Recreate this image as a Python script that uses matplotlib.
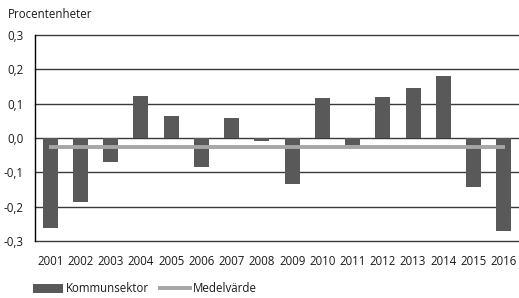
import matplotlib
matplotlib.use('Agg')
import matplotlib.pyplot as plt
from matplotlib.patches import Patch
from matplotlib.lines import Line2D

years = [str(y) for y in range(2001, 2017)]
kommunsektor = [-0.262, -0.187, -0.070, 0.122, 0.064, -0.085, 0.058, -0.010,
                -0.134, 0.116, -0.020, 0.119, 0.146, 0.180, -0.143, -0.272]
medelvarde = -0.025
yticks = [-0.3, -0.2, -0.1, 0.0, 0.1, 0.2, 0.3]

plt.rcParams['font.family'] = ['Open Sans', 'DejaVu Sans']

BAR = '#595959'
MEAN = '#a6a6a6'
GRID = '#3a3a3a'
TXT = '#1a1a1a'

fig = plt.figure(figsize=(5.19, 2.98), dpi=100)
ax = fig.add_axes([35 / 519, 1 - 241 / 298, 1 - 35 / 519, (241 - 35) / 298])

x = list(range(len(years)))
ax.bar(x, kommunsektor, width=0.5, color=BAR, zorder=3)
ax.plot([x[0] - 0.05, x[-1] + 0.05], [medelvarde, medelvarde], color=MEAN,
        linewidth=2.8, zorder=4, solid_capstyle='butt')

ax.set_ylim(-0.3, 0.3)
ax.set_xlim(-0.5, len(years) - 0.5)
ax.set_yticks(yticks)
ax.set_yticklabels([f'{v:.1f}'.replace('.', ',') for v in yticks])
ax.set_xticks(x)
ax.set_xticklabels(years)
for v in yticks:
    ax.axhline(v, color=GRID, linewidth=1.0, zorder=1, clip_on=False)

for s in ['top', 'right', 'bottom']:
    ax.spines[s].set_visible(False)
ax.spines['left'].set_color('#000000')
ax.spines['left'].set_linewidth(1.0)
ax.tick_params(axis='both', length=0, labelsize=8.3, colors=TXT)
ax.tick_params(axis='x', pad=10)
ax.tick_params(axis='y', pad=8)

fig.text(8 / 519, 1 - 15 / 298, 'Procentenheter', fontsize=8.3, color=TXT,
         va='center', ha='left')

handles = [Patch(facecolor=BAR, edgecolor='none'),
           Line2D([0], [0], color=MEAN, linewidth=2.8)]
fig.legend(handles, ['Kommunsektor', 'Medelvärde'], loc='center left',
           bbox_to_anchor=(28 / 519, 1 - 289 / 298), ncol=2, frameon=False,
           fontsize=8.3, handlelength=2.6, handleheight=0.9, handletextpad=0.3,
           columnspacing=0.9, labelcolor=TXT, borderaxespad=0)

plt.savefig('out.png', dpi=100)
